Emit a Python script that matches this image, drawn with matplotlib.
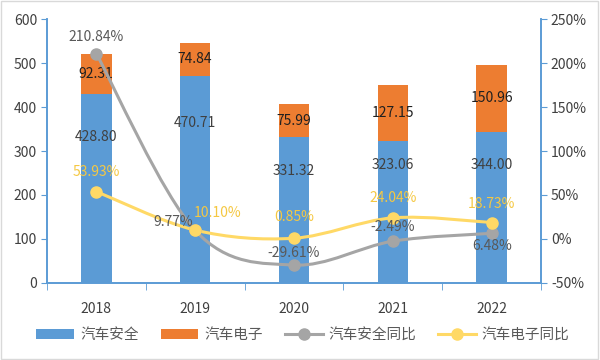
import matplotlib
matplotlib.use("Agg")
import matplotlib.pyplot as plt
from matplotlib.path import Path
from matplotlib.patches import PathPatch, Patch
from matplotlib.lines import Line2D
import numpy as np

plt.rcParams['font.family'] = ['Noto Sans CJK SC', 'DejaVu Sans']

years = ['2018', '2019', '2020', '2021', '2022']
safety = [428.80, 470.71, 331.32, 323.06, 344.00]
electronics = [92.31, 74.84, 75.99, 127.15, 150.96]
safety_yoy = [210.84, 9.77, -29.61, -2.49, 6.48]
electronics_yoy = [53.93, 10.10, 0.85, 24.04, 18.73]
series_names = ['汽车安全', '汽车电子', '汽车安全同比', '汽车电子同比']

BLUE = '#5B9BD5'
ORANGE = '#ED7D31'
GRAY = '#A5A5A5'
YELLOW = '#FFD966'
YELLOW_TXT = '#F5C842'
AXIS = '#5B9BD5'

fig = plt.figure(figsize=(6, 3.6), dpi=100)
fig.patch.set_facecolor('white')
ax = fig.add_axes([0.078, 0.214, 0.824, 0.733])
ax2 = ax.twinx()

x = np.arange(len(years))
w = 0.31
ax.bar(x, safety, w, color=BLUE, zorder=2)
ax.bar(x, electronics, w, bottom=safety, color=ORANGE, zorder=2)

ax.set_xlim(-0.5, len(years) - 0.5)
ax.set_ylim(0, 600)
ax.set_yticks(range(0, 601, 100))
ax2.set_ylim(-50, 250)
ax2.set_yticks(range(-50, 251, 50))
ax2.set_yticklabels([f'{v}%' for v in range(-50, 251, 50)])
ax.set_xticks(x)
ax.set_xticklabels(years)
ax.set_xticks(np.arange(-0.5, len(years)), minor=True)
ax.tick_params(axis='x', which='major', length=0, pad=14, labelsize=10, colors='#404040')
ax.tick_params(axis='x', which='minor', length=5, color=AXIS, direction='out')
ax.tick_params(axis='y', length=4, color=AXIS, labelsize=10, labelcolor='#404040', pad=3)
ax2.tick_params(axis='y', length=4, color=AXIS, labelsize=10, labelcolor='#404040', pad=3)

for a in (ax, ax2):
    a.spines['top'].set_visible(False)
    for s in ('left', 'right', 'bottom'):
        a.spines[s].set_color(AXIS)
        a.spines[s].set_linewidth(1.2)

# bar labels
safety_label_y = [332, 364, 255, 268, 268]
for i in range(len(years)):
    ax.text(x[i], safety_label_y[i], f'{safety[i]:.2f}', ha='center', va='center',
            fontsize=10, color='#404040', zorder=3)
    ax.text(x[i], safety[i] + electronics[i] / 2, f'{electronics[i]:.2f}', ha='center',
            va='center', fontsize=10, color='#202020', zorder=3)


def smooth_path(xs, ys, t=1 / 6):
    pts = np.column_stack([xs, ys]).astype(float)
    n = len(pts)
    verts = [pts[0]]
    codes = [Path.MOVETO]
    for i in range(n - 1):
        p0 = pts[i - 1] if i > 0 else pts[i]
        p1 = pts[i]
        p2 = pts[i + 1]
        p3 = pts[i + 2] if i + 2 < n else pts[i + 1]
        c1 = p1 + (p2 - p0) * t
        c2 = p2 - (p3 - p1) * t
        verts += [c1, c2, p2]
        codes += [Path.CURVE4] * 3
    return Path(verts, codes)


for vals, col in ((safety_yoy, GRAY), (electronics_yoy, YELLOW)):
    ax2.add_patch(PathPatch(smooth_path(x, vals), facecolor='none', edgecolor=col,
                            lw=2.2, zorder=4, capstyle='round'))
    ax2.plot(x, vals, 'o', color=col, ms=8, zorder=5)

# line labels (offsets in points)
gray_off = [(0, 12), (-16, 6), (0, 9), (0, 10), (0, -9)]
yel_off = [(0, 14), (16, 12), (0, 15), (0, 14), (0, 13)]
for i in range(len(years)):
    ax2.annotate(f'{safety_yoy[i]:.2f}%', (x[i], safety_yoy[i]), xytext=gray_off[i],
                 textcoords='offset points', ha='center', va='center', fontsize=10,
                 color='#595959', zorder=6)
    ax2.annotate(f'{electronics_yoy[i]:.2f}%', (x[i], electronics_yoy[i]), xytext=yel_off[i],
                 textcoords='offset points', ha='center', va='center', fontsize=10,
                 color=YELLOW_TXT, zorder=6)

handles = [
    Patch(facecolor=BLUE, edgecolor='none'),
    Patch(facecolor=ORANGE, edgecolor='none'),
    Line2D([0], [0], color=GRAY, lw=2.2, marker='o', ms=8),
    Line2D([0], [0], color=YELLOW, lw=2.2, marker='o', ms=8),
]
fig.legend(handles, series_names, loc='center', bbox_to_anchor=(0.505, 0.07), ncol=4,
           frameon=False, fontsize=10.5, handlelength=2.6, handleheight=0.7,
           columnspacing=1.5, handletextpad=0.4, labelcolor='#595959')

fig.add_artist(plt.Rectangle((0.002, 0.003), 0.995, 0.994, transform=fig.transFigure,
                             fill=False, edgecolor='#D9D9D9', lw=1))

fig.savefig('out.png', dpi=100)
